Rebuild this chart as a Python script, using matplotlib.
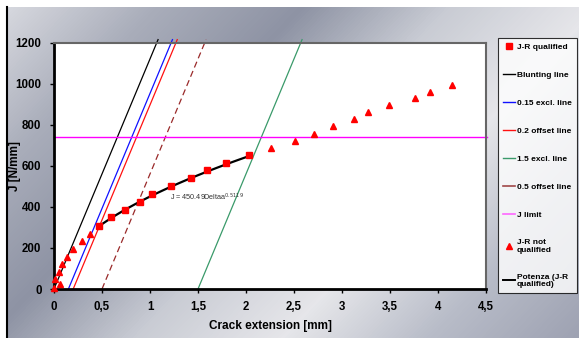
import numpy as np
import matplotlib.pyplot as plt
from matplotlib.colors import LinearSegmentedColormap
from matplotlib.lines import Line2D
from matplotlib.ticker import FuncFormatter

plt.rcParams['font.family'] = ['Liberation Sans', 'DejaVu Sans']

# J-R qualified points (crack extension [mm], J [N/mm])
qual_da = [0.47, 0.59, 0.74, 0.90, 1.02, 1.22, 1.43, 1.59, 1.79, 2.03]
qual_j = [307, 349, 385, 425, 464, 503, 539, 578, 612, 651]

# J-R not qualified points
nq_da = [0.00, 0.01, 0.06, 0.055, 0.08, 0.14, 0.20, 0.29, 0.37,
         2.26, 2.51, 2.71, 2.91, 3.12, 3.27, 3.49, 3.76, 3.92, 4.15]
nq_j = [5, 47, 26, 83, 120, 157, 195, 232, 270,
        685, 722, 753, 794, 828, 862, 895, 929, 961, 994]

# construction lines
blunt_slope = 1121.0          # J = 2*sigma_y*da
offsets = {"Blunting line": 0.0, "0.15 excl. line": 0.15, "0.2 offset line": 0.2,
           "1.5 excl. line": 1.5, "0.5 offset line": 0.5}
line_colors = {"Blunting line": "black", "0.15 excl. line": "#1010ff",
               "0.2 offset line": "#ff1010", "1.5 excl. line": "#3a9a6a",
               "0.5 offset line": "#9a2a2a"}
j_top = 1215
j_limit = 740

# power law fit
fit_c, fit_n = 450.49, 0.5119

fig = plt.figure(figsize=(5.79, 3.38), dpi=100)
fig.patch.set_facecolor("white")

# shaded chart-area background
bg = fig.add_axes([7 / 579, 0, 1 - 7 / 579, 1 - 7 / 338], zorder=-5)
yy, xx = np.mgrid[0:331, 0:572]
t = (xx / 572.0) + 0.55 * (yy / 331.0)
cmap = LinearSegmentedColormap.from_list(
    "bg", ["#d6d8de", "#a9adba", "#8e93a4", "#c9ccd4", "#e6e6ea", "#b8bcc8", "#9ea2b2"])
bg.imshow(t, cmap=cmap, aspect="auto", interpolation="bilinear")
bg.set_xticks([])
bg.set_yticks([])
for s in ["top", "right", "bottom"]:
    bg.spines[s].set_visible(False)
bg.spines["left"].set_linewidth(1.5)
bg.spines["left"].set_color("black")

ax = fig.add_axes([54 / 579, 1 - 289 / 338, (486 - 54) / 579, (289 - 42.7) / 338])
ax.set_facecolor("white")

# construction lines
for name, off in offsets.items():
    da = [off, off + j_top / blunt_slope]
    jj = [0, j_top]
    line, = ax.plot(da, jj, color=line_colors[name], lw=0.9, clip_on=False)
    if name == "0.5 offset line":
        line.set_dashes((5, 3))

ax.axhline(j_limit, color="#ff00ff", lw=1.0, xmin=0, xmax=1.003, clip_on=False)

# fit curve
xf = np.linspace(min(qual_da), max(qual_da), 100)
ax.plot(xf, fit_c * xf ** fit_n, color="black", lw=1.6, zorder=4)
ax.plot(qual_da, qual_j, ls="none", marker="s", ms=4.5, color="#ff0000", zorder=5,
        clip_on=False)
ax.plot(nq_da, nq_j, ls="none", marker="^", ms=5, color="#ff0000", zorder=5,
        clip_on=False)

ax.text(1.21, 448, r"J = 450.49Deltaa$^{0.5119}$", fontsize=5.2, color="#333333",
        va="center", ha="left")

ax.set_xlim(0, 4.5)
ax.set_ylim(0, 1200)
ax.set_xticks(np.arange(0, 4.51, 0.5))
ax.set_yticks(np.arange(0, 1201, 200))
ax.xaxis.set_major_formatter(FuncFormatter(lambda v, p: f"{v:g}".replace(".", ",")))
ax.tick_params(labelsize=8.3, length=3, width=1, direction="out", pad=6)
for lab in ax.get_xticklabels() + ax.get_yticklabels():
    lab.set_fontweight("bold")
ax.spines["left"].set_linewidth(2)
ax.spines["bottom"].set_linewidth(2)
ax.spines["top"].set_color("#666666")
ax.spines["right"].set_color("#666666")
ax.spines["top"].set_linewidth(1.5)
ax.spines["right"].set_linewidth(1.5)

ax.set_xlabel("Crack extension [mm]", fontsize=8.5, fontweight="bold", labelpad=5)
ax.set_ylabel("J [N/mm]", fontsize=8.5, fontweight="bold")
ax.yaxis.set_label_coords(-0.076, 0.5)

handles = [
    Line2D([], [], ls="none", marker="s", ms=4, color="#ff0000", label="J-R qualified"),
    Line2D([], [], color="black", lw=1, label="Blunting line"),
    Line2D([], [], color="#1010ff", lw=1, label="0.15 excl. line"),
    Line2D([], [], color="#ff1010", lw=1, label="0.2 offset line"),
    Line2D([], [], color="#3a9a6a", lw=1, label="1.5 excl. line"),
    Line2D([], [], color="#a04848", lw=1.2, label="0.5 offset line"),
    Line2D([], [], color="#ff66ff", lw=1.2, label="J limit"),
    Line2D([], [], ls="none", marker="^", ms=4.5, color="#ff0000", label="J-R not\nqualified"),
    Line2D([], [], color="black", lw=1.4, label="Potenza (J-R\nqualified)"),
]
leg = fig.legend(handles=handles, loc="upper left", bbox_to_anchor=(498 / 579, 1 - 38 / 338),
                 fontsize=6, frameon=True, fancybox=False, edgecolor="black",
                 handlelength=1.4, handletextpad=0.25, labelspacing=2.42,
                 borderpad=0.6, borderaxespad=0)
leg.get_frame().set_linewidth(0.8)
for txt in leg.get_texts():
    txt.set_fontweight("bold")
    txt.set_linespacing(1.1)

fig.savefig("out.png", dpi=100)
